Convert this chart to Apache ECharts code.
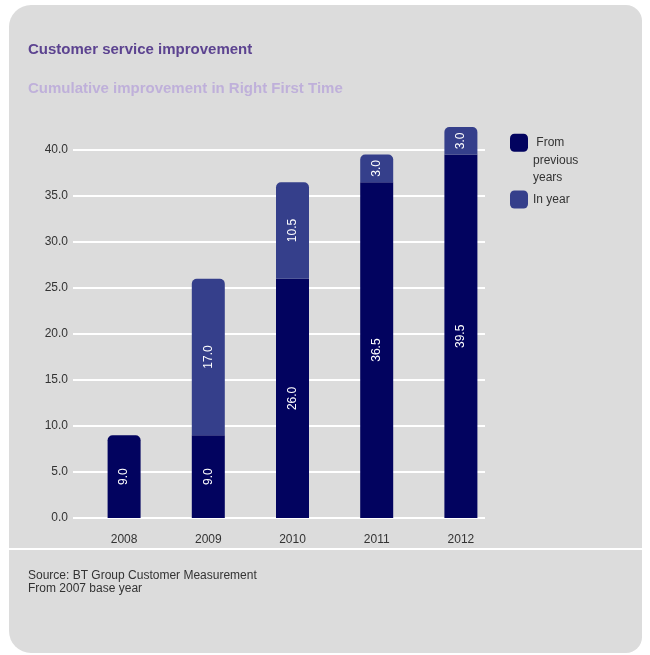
<!DOCTYPE html>
<html>
<head>
<meta charset="utf-8">
<script src="https://cdn.jsdelivr.net/npm/echarts@6/dist/echarts.min.js"></script>
<style>
  html, body { margin: 0; padding: 0; background: #fff; }
  #card {
    position: absolute; left: 9px; top: 5px; width: 633px; height: 648px;
    background: #dcdcdc; border-radius: 22px 16px 16px 22px;
  }
  #chart { position: absolute; left: 0; top: 0; width: 650px; height: 655px; }
</style>
</head>
<body>
<div id="card"></div>
<div id="chart"></div>
<script>
'use strict';

var years = ['2008', '2009', '2010', '2011', '2012'];
var fromPrevious = [9.0, 9.0, 26.0, 36.5, 39.5];
var inYear = [null, 17.0, 10.5, 3.0, 3.0];
var yTicks = { min: 0, max: 42.5, interval: 5 };

var darkColor = '#02035f';
var lightColor = '#353f8b';
var font = '"Liberation Sans", Arial, sans-serif';

var labelStyle = {
  show: true,
  position: 'inside',
  rotate: 90,
  color: '#fff',
  fontSize: 12,
  fontFamily: font,
  formatter: function (p) { return p.value.toFixed(1); }
};

var prevData = fromPrevious.map(function (v, i) {
  return {
    value: v,
    itemStyle: { borderRadius: inYear[i] ? 0 : [5, 5, 0, 0] }
  };
});

var option = {
  backgroundColor: 'transparent',
  animation: false,
  textStyle: { fontFamily: font },
  title: [
    {
      text: 'Customer service improvement',
      left: 23, top: 37,
      textStyle: { fontSize: 15, fontWeight: 'bold', color: '#5c4390', fontFamily: font }
    },
    {
      text: 'Cumulative improvement in Right First Time',
      left: 23, top: 76,
      textStyle: { fontSize: 15, fontWeight: 'bold', color: '#bfb0da', fontFamily: font }
    }
  ],
  legend: {
    orient: 'vertical',
    left: 510,
    top: 99,
    padding: 0,
    itemGap: 4,
    itemWidth: 18,
    itemHeight: 18,
    icon: 'roundRect',
    textStyle: {
      fontSize: 12, color: '#333', fontFamily: font,
      lineHeight: 17.5
    },
    data: ['From previous years', 'In year'],
    formatter: function (name) {
      // blank lines above keep "From" level with the icon
      return name === 'From previous years' ? '\n\n From\nprevious\nyears' : name;
    }
  },
  // grid 0 holds the bars, grid 1 only draws the wider-left / shorter-right gridlines
  grid: [
    { left: 82, right: 147, top: 127, bottom: 137 },
    { left: 73, right: 165, top: 127, bottom: 137 }
  ],
  xAxis: [
    {
      type: 'category',
      data: years,
      axisLine: { show: false },
      axisTick: { show: false },
      axisLabel: { color: '#333', fontSize: 12, margin: 16, fontFamily: font }
    },
    { type: 'category', gridIndex: 1, data: years, show: false }
  ],
  yAxis: [
    {
      type: 'value',
      min: yTicks.min,
      max: yTicks.max,
      interval: yTicks.interval,
      axisLine: { show: false },
      axisTick: { show: false },
      axisLabel: {
        color: '#333', fontSize: 12, margin: 14, fontFamily: font,
        showMaxLabel: false,
        formatter: function (v) { return v.toFixed(1); }
      },
      splitLine: { show: false }
    },
    {
      type: 'value',
      gridIndex: 1,
      min: yTicks.min,
      max: yTicks.max,
      interval: yTicks.interval,
      axisLine: { show: false },
      axisTick: { show: false },
      axisLabel: { show: false },
      splitLine: { show: true, showMaxLine: false, lineStyle: { color: '#fff', width: 2 } }
    }
  ],
  series: [
    {
      name: 'From previous years',
      type: 'bar',
      stack: 'total',
      barWidth: 33,
      itemStyle: { color: darkColor },
      label: labelStyle,
      data: prevData
    },
    {
      name: 'In year',
      type: 'bar',
      stack: 'total',
      barWidth: 33,
      itemStyle: { color: lightColor, borderRadius: [5, 5, 0, 0] },
      label: labelStyle,
      data: inYear
    }
  ],
  graphic: [
    {
      type: 'line',
      shape: { x1: 9, y1: 549, x2: 650, y2: 549 },
      style: { stroke: '#fff', lineWidth: 2 }
    },
    {
      type: 'text', left: 28, top: 569,
      style: {
        text: 'Source: BT Group Customer Measurement\nFrom 2007 base year',
        fill: '#333', font: '12px ' + font, lineHeight: 13
      }
    }
  ]
};

var chart = echarts.init(document.getElementById('chart'));
chart.setOption(option);
</script>
</body>
</html>
